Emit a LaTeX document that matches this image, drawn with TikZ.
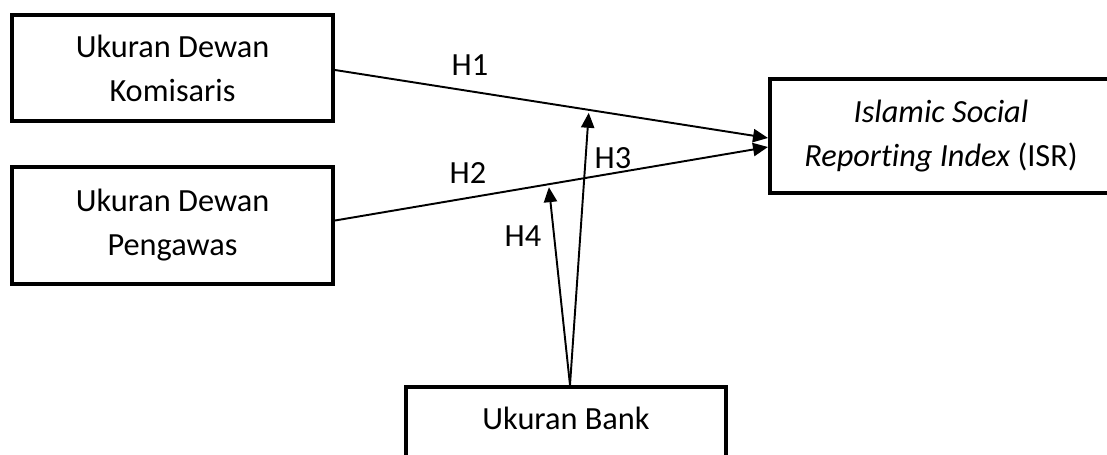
\documentclass[tikz,border=0pt]{standalone}
\usepackage{fontspec}
\setmainfont{Carlito}[Ligatures=NoCommon]
\usetikzlibrary{arrows.meta}
\tikzset{
  varbox/.style={draw=black, line width=2.3pt, align=center, inner sep=0pt,
    font=\fontsize{18.4}{25}\selectfont},
  link/.style={line width=1.1pt, -{Triangle[length=8.5pt,width=7.5pt]}},
  hlabel/.style={font=\fontsize{18.4}{20}\selectfont}
}
\begin{document}
\begin{tikzpicture}[x=0.02cm, y=-0.02cm]
		\useasboundingbox (0,0) rectangle (1107,454);

		\node[varbox, minimum width=321*0.02cm, minimum height=106*0.02cm] (kom) at (172.5,68) {Ukuran Dewan\\Komisaris};
		\node[varbox, minimum width=321*0.02cm, minimum height=117*0.02cm] (pengawas) at (172.5,225.5) {Ukuran Dewan\\Pengawas};
		\node[varbox, minimum width=342*0.02cm, minimum height=114*0.02cm] (isr) at (941,136) {\textit{Islamic Social}\\\textit{Reporting Index} (ISR)};
		\node[varbox, minimum width=320*0.02cm, minimum height=130*0.02cm, text depth=67*0.02cm] (bank) at (566,452) {Ukuran Bank};

		\coordinate (isrtop) at ([yshift=-0.04cm]isr.west);
		\coordinate (isrbot) at ([yshift=-0.22cm]isr.west);
		\coordinate (bankout) at ([xshift=0.08cm]bank.north);

		\draw[link] ([yshift=-0.04cm]kom.east) -- coordinate[pos=0.586] (mid1) (isrtop);
		\draw[link] ([yshift=0.1cm]pengawas.east) -- coordinate[pos=0.494] (mid2) (isrbot);

		\draw[link] (bankout) -- ([yshift=-0.06cm]mid1);
		\draw[link] (bankout) -- ([yshift=-0.06cm]mid2);

		\node[hlabel] (h1) at (470,65) {H1};
		\node[hlabel] (h2) at (468,173) {H2};
		\node[hlabel] (h3) at (613,158) {H3};
		\node[hlabel] (h4) at (523,236) {H4};
	\end{tikzpicture}
\end{document}
